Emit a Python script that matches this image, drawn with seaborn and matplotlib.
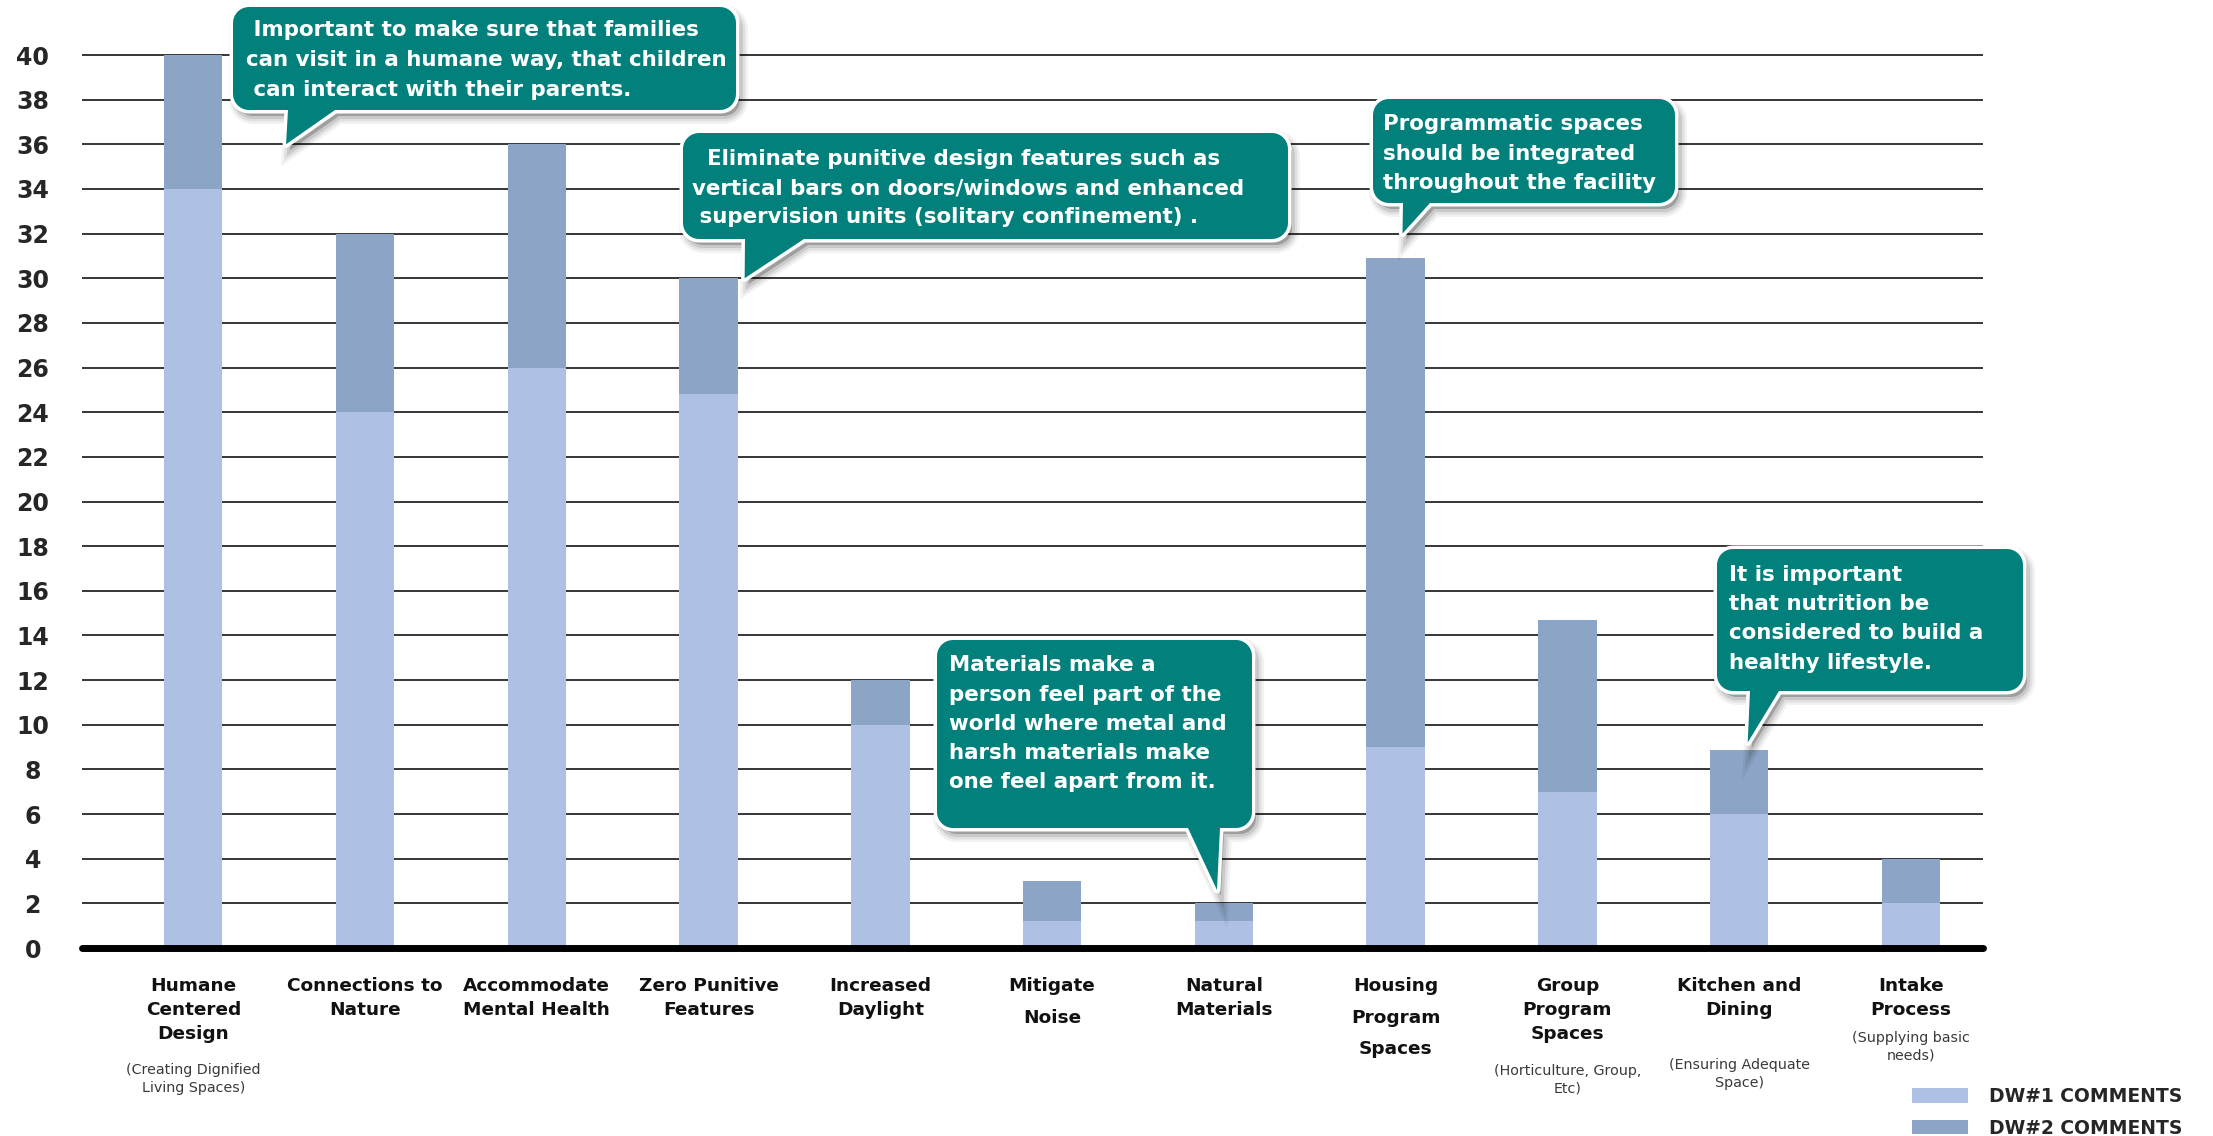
import numpy as np
import pandas as pd
import matplotlib
matplotlib.use("Agg")
import matplotlib.pyplot as plt
import seaborn as sns
from matplotlib.path import Path
from matplotlib.patches import PathPatch, Patch
from matplotlib.transforms import IdentityTransform

# ---------------- data ----------------
categories = ["Humane\nCentered\nDesign", "Connections to\nNature", "Accommodate\nMental Health",
              "Zero Punitive\nFeatures", "Increased\nDaylight", "Mitigate\nNoise", "Natural\nMaterials",
              "Housing\nProgram\nSpaces", "Group\nProgram\nSpaces", "Kitchen and\nDining", "Intake\nProcess"]
subtitles = ["(Creating Dignified\nLiving Spaces)", "", "", "", "", "", "",
             "", "(Horticulture, Group,\nEtc)", "(Ensuring Adequate\nSpace)", "(Supplying basic\nneeds)"]
dw1 = [34, 24, 26, 24.8, 10, 1.2, 1.2, 9, 7, 6, 2]
dw2 = [6, 8, 10, 5.2, 2, 1.8, 0.8, 21.9, 7.7, 2.85, 2]
yticks = list(range(0, 41, 2))
series_labels = ["DW#1 COMMENTS", "DW#2 COMMENTS"]

callout_texts = [
    [" Important to make sure that families", "can visit in a humane way, that children", " can interact with their parents."],
    ["  Eliminate punitive design features such as", "vertical bars on doors/windows and enhanced", " supervision units (solitary confinement) ."],
    ["Programmatic spaces", "should be integrated", "throughout the facility"],
    ["Materials make a", "person feel part of the", "world where metal and", "harsh materials make", "one feel apart from it."],
    ["It is important", "that nutrition be", "considered to build a", "healthy lifestyle."],
]
# tail tips in data coordinates (category position, value)
callout_tips = [(0.54, 36.0), (3.21, 30.0), (7.04, 32.0), (5.96, 2.6), (9.05, 9.2)]

# ---------------- style / layout ----------------
W, H = 2213, 1136
DW1_C = "#AEC0E4"
DW2_C = "#8CA4C6"
TEAL = "#02807B"

# boxes: left, right, top, bottom (pixels from top-left), tail base x0,x1, text x, line centres
callout_layout = [
    dict(box=(233, 736, 7, 110), base=(288, 335), tx=246, ty=[28, 58, 88]),
    dict(box=(683, 1288, 133, 239), base=(745, 804), tx=692, ty=[157, 186, 215]),
    dict(box=(1373, 1675, 99, 203), base=(1403, 1430), tx=1383, ty=[122, 152, 181]),
    dict(box=(937, 1252, 640, 828), base=(1188, 1220), tx=949, ty=[663, 693, 722, 751, 780]),
    dict(box=(1717, 2023, 549, 691), base=(1750, 1779), tx=1729, ty=[573, 602, 631, 661]),
]
label_linespacing = [1.42, 1.42, 1.42, 1.42, 1.42, 1.97, 1.42, 1.97, 1.42, 1.42, 1.42]
sub_center_y = [1079, 0, 0, 0, 0, 0, 0, 0, 1080, 1074, 1047]

sns.set_style("white")
plt.rcParams["font.family"] = ["DejaVu Sans"]

df = pd.DataFrame({"category": categories, "dw1": dw1, "dw2": dw2})
df["total"] = df["dw1"] + df["dw2"]

fig = plt.figure(figsize=(W / 100, H / 100), dpi=100)
y0_px, unit_px = 948, 22.325
ytop = 40.5
ax = fig.add_axes([82 / W, 1 - y0_px / H, (1983 - 82) / W, ytop * unit_px / H])

sns.barplot(data=df, x="category", y="total", color=DW2_C, saturation=1, width=0.34,
            errorbar=None, ax=ax, zorder=2, linewidth=0)
sns.barplot(data=df, x="category", y="dw1", color=DW1_C, saturation=1, width=0.34,
            errorbar=None, ax=ax, zorder=2, linewidth=0)

ax.set_xlim(-0.648, 10.42)
ax.set_ylim(0, ytop)
ax.set_xlabel("")
ax.set_ylabel("")
for s in ax.spines.values():
    s.set_visible(False)

ax.set_yticks(yticks)
ax.set_yticklabels([str(v) for v in yticks], fontsize=17, fontweight="bold")
ax.tick_params(axis="y", length=0, pad=35.5)
for t in ax.get_yticklabels():
    t.set_horizontalalignment("center")
ax.grid(axis="y", color="black", linewidth=1.1)
ax.grid(axis="x", visible=False)
ax.set_axisbelow(True)
ax.axhline(0, color="black", lw=5, solid_capstyle="round", zorder=4, clip_on=False)

ax.set_xticks(range(len(categories)))
ax.set_xticklabels(categories, fontsize=13.3, fontweight="bold")
ax.tick_params(axis="x", length=0, pad=21)
for t, ls in zip(ax.get_xticklabels(), label_linespacing):
    t.set_linespacing(ls)
    t.set_color("#111111")

# sub labels
for i, (s, yc) in enumerate(zip(subtitles, sub_center_y)):
    if not s:
        continue
    xd, _ = ax.transData.transform((i, 0))
    fig.text(xd / W, 1 - yc / H, s, ha="center", va="center", fontsize=10.3,
             color="#3a3a3a", linespacing=1.35, multialignment="center")


# callouts
def rounded_path(L, R, T, B, r, base, tip):
    verts = []
    def arc(cx, cy, a0, a1):
        for a in np.linspace(np.radians(a0), np.radians(a1), 10):
            verts.append((cx + r * np.cos(a), cy + r * np.sin(a)))
    verts.append((L + r, T))
    arc(R - r, T - r, 90, 0)
    arc(R - r, B + r, 0, -90)
    verts.append((base[1], B))
    verts.append(tip)
    verts.append((base[0], B))
    arc(L + r, B + r, -90, -180)
    arc(L + r, T - r, 180, 90)
    verts.append(verts[0])
    codes = [Path.MOVETO] + [Path.LINETO] * (len(verts) - 2) + [Path.CLOSEPOLY]
    return Path(verts, codes)


for lay, tip_d, lines in zip(callout_layout, callout_tips, callout_texts):
    L, R, T, B = lay["box"]
    tip = ax.transData.transform(tip_d)
    path = rounded_path(L, R, H - T, H - B, 16, lay["base"], tuple(tip))
    # soft shadow
    for lw, a in [(16, 0.05), (11, 0.07), (6, 0.10)]:
        sp = Path(path.vertices + np.array([4, -6]), path.codes)
        fig.add_artist(PathPatch(sp, transform=IdentityTransform(), facecolor=(0, 0, 0, a),
                                 edgecolor=(0, 0, 0, a), lw=lw * 0.72, zorder=10))
    fig.add_artist(PathPatch(path, transform=IdentityTransform(), facecolor="white",
                             edgecolor="white", lw=7 * 0.72, zorder=11, joinstyle="round"))
    fig.add_artist(PathPatch(path, transform=IdentityTransform(), facecolor=TEAL,
                             edgecolor="none", lw=0, zorder=12))
    for s, yc in zip(lines, lay["ty"]):
        fig.text(lay["tx"] / W, 1 - (yc + 8) / H, s, ha="left", va="baseline", color="white",
                 fontsize=15.4, fontweight="bold", zorder=13)

# legend
handles = [Patch(facecolor=DW1_C, edgecolor="none", label=series_labels[0]),
           Patch(facecolor=DW2_C, edgecolor="none", label=series_labels[1])]
fig.legend(handles=handles, loc="upper left", bbox_to_anchor=(1912 / W, 1 - 1087 / H),
           frameon=False, borderpad=0, borderaxespad=0, handlelength=2.97, handleheight=0.8,
           handletextpad=1.13, labelspacing=0.68,
           prop={"size": 13.5, "weight": "bold"})

fig.savefig("out.png", dpi=100)
